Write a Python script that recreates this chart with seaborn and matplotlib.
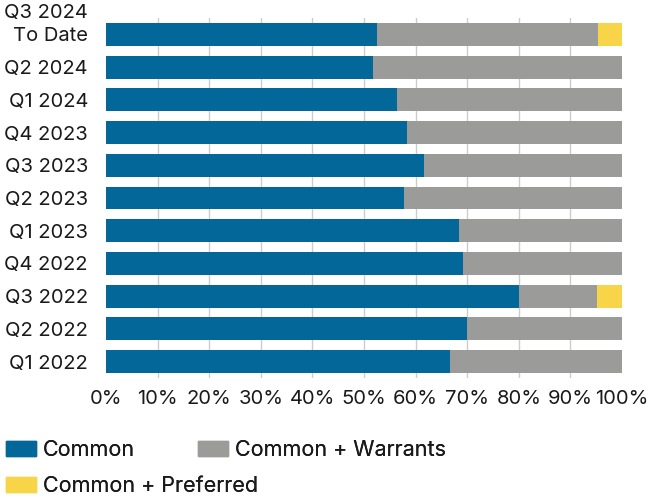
import matplotlib
matplotlib.use("Agg")
import matplotlib.pyplot as plt
import matplotlib.patches as mpatches
import seaborn as sns
import pandas as pd

quarters = ["Q3 2024\nTo Date", "Q2 2024", "Q1 2024", "Q4 2023", "Q3 2023",
            "Q2 2023", "Q1 2023", "Q4 2022", "Q3 2022", "Q2 2022", "Q1 2022"]
common = [52.5, 51.7, 56.3, 58.3, 61.7, 57.7, 68.4, 69.2, 80.0, 70.0, 66.7]
warrants = [42.9, 48.3, 43.7, 41.7, 38.3, 42.3, 31.6, 30.8, 15.2, 30.0, 33.3]
preferred = [4.6, 0, 0, 0, 0, 0, 0, 0, 4.8, 0, 0]

series_names = ["Common", "Common + Warrants", "Common + Preferred"]
colors = ["#03679a", "#9b9b9a", "#f8d548"]

df = pd.DataFrame({"quarter": quarters, "common": common,
                   "warrants": warrants, "preferred": preferred})
df["cum_warrants"] = df["common"] + df["warrants"]
df["cum_preferred"] = df["cum_warrants"] + df["preferred"]

sns.set_theme(style="white")
plt.rcParams["font.family"] = ["Inter", "DejaVu Sans"]
FS = 14.5
LEG_FS = 15.5
TXT = "#1a1a1a"

fig = plt.figure(figsize=(6.54, 4.98), dpi=100)
ax = fig.add_axes([106 / 654, 1 - 378 / 498, 516 / 654, 360 / 498])

# stacked bars: draw cumulative totals from the back to the front
for col, color in zip(["cum_preferred", "cum_warrants", "common"], colors[::-1]):
    sns.barplot(data=df, x=col, y="quarter", color=color, orient="h",
                width=0.7, ax=ax, zorder=2, saturation=1, linewidth=0)

ax.set_xlim(0, 100)
ax.set_ylim(10.5, -0.5)
ax.set_xticks(range(0, 101, 10))
ax.set_xticklabels([f"{v}%" for v in range(0, 101, 10)])
for v in range(10, 100, 10):
    ax.axvline(v, color="#cccccc", lw=1, zorder=1)
ax.set_xlabel("")
ax.set_ylabel("")
for s in ax.spines.values():
    s.set_visible(False)
ax.tick_params(axis="both", length=0, labelsize=FS, colors=TXT)
ax.tick_params(axis="x", pad=8.5)
ax.tick_params(axis="y", pad=13)

# multi-line category: last line sits on the bar, earlier lines stack above it
ylabels = [q.split("\n")[-1] for q in quarters]
ax.set_yticks(range(len(quarters)))
ax.set_yticklabels(ylabels)
for i, q in enumerate(quarters):
    lines = q.split("\n")[:-1]
    for k, line in enumerate(reversed(lines)):
        ax.annotate(line, xy=(0, i), xycoords=("axes fraction", "data"),
                    xytext=(-13, 15.5 * (k + 1)), textcoords="offset points",
                    ha="right", va="center", fontsize=FS, color=TXT)

# legend entries laid out in a flowing row
entries = [(0, 6, 450), (1, 198, 450), (2, 6, 486)]
for idx, x, yc in entries:
    h = mpatches.Patch(color=colors[idx], label=series_names[idx])
    leg = fig.legend(handles=[h], loc="center left",
                     bbox_to_anchor=(x / 654, 1 - yc / 498),
                     frameon=False, fontsize=LEG_FS, handlelength=1.4,
                     handleheight=0.7, handletextpad=0.3,
                     borderaxespad=0, borderpad=0, labelcolor=TXT)
    fig.add_artist(leg)

fig.savefig("out.png", dpi=100)
